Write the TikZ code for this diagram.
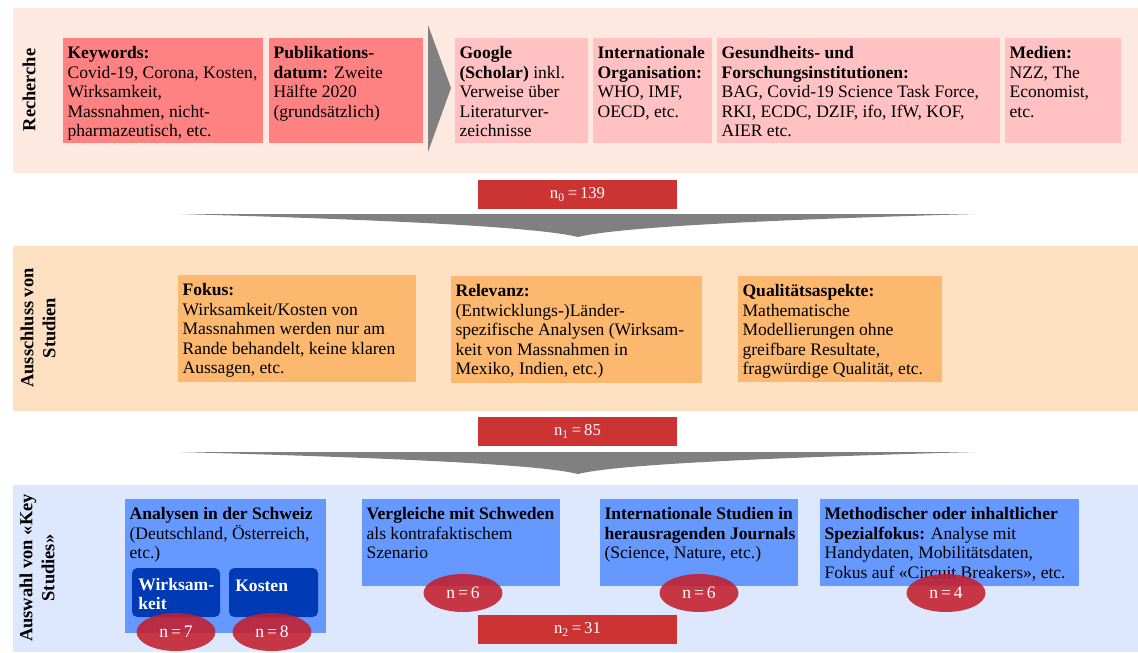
\documentclass[tikz,border=0pt]{standalone}
\usepackage{fontspec}
\setmainfont{Liberation Serif}
\usetikzlibrary{fit, shapes.geometric}
\definecolor{bandone}{HTML}{FDE9DF}
\definecolor{bandtwo}{HTML}{FDDFC2}
\definecolor{bandthree}{HTML}{DDE8FE}
\definecolor{salmon}{HTML}{FF8282}
\definecolor{rosa}{HTML}{FFC1C1}
\definecolor{apricot}{HTML}{FDB870}
\definecolor{sky}{HTML}{6699FF}
\definecolor{navy}{HTML}{003AB4}
\definecolor{nred}{HTML}{CC3333}
\definecolor{ered}{HTML}{C41E2C}
\definecolor{funnel}{HTML}{808080}

\begin{document}
\begin{tikzpicture}[
    x=0.02cm, y=-0.02cm,
    every node/.style={font=\fontsize{10}{11.1}\selectfont},
    area/.style={inner sep=0pt, outer sep=0pt},
    seclabel/.style={rotate=90, align=center, font=\fontsize{10.5}{12.5}\selectfont\bfseries},
    txt/.style={anchor=north west, align=left, inner xsep=2.4pt, inner ysep=4.7pt, execute at begin node=\strut},
    subbox/.style={area, fill=navy, rounded corners=3pt},
    subtxt/.style={txt, text=white, inner xsep=3.4pt, inner ysep=5.4pt, font=\fontsize{10}{11.1}\selectfont\bfseries},
    nbox/.style={area, fill=nred, text=white, minimum width=3.98cm, minimum height=0.58cm,
        font=\fontsize{9.5}{10}\selectfont},
    nell/.style={ellipse, fill=ered, fill opacity=0.88, text opacity=1, text=white,
        minimum width=1.58cm, minimum height=0.76cm, inner sep=0pt}
]
    \useasboundingbox (0,0) rectangle (1138,652);

    % Recherche
    \node[area, fill=bandone, fit={(13,8)(1138,173)}] (recherche) {};
    \node[seclabel] (rechlab) at (29,90) {Recherche};

    \node[area, fill=salmon, fit={(63,38)(263,143)}] (kw) {};
    \node[txt] (kwt) at (kw.north west) {\textbf{Keywords:}\\Covid-19, Corona, Kosten,\\Wirksamkeit,\\Massnahmen, nicht-\\pharmazeutisch, etc.};
    \node[area, fill=salmon, fit={(269,38)(423,143)}] (pub) {};
    \node[txt] (pubt) at (pub.north west) {\textbf{Publikations-}\\\textbf{datum:} Zweite\\Hälfte 2020\\(grundsätzlich)};

    \fill[funnel] (428,25) -- (451,88) -- (428,152) -- cycle;

    \node[area, fill=rosa, fit={(455,38)(588,143)}] (goo) {};
    \node[txt] (goot) at (goo.north west) {\textbf{Google}\\\textbf{(Scholar)} inkl.\\Verweise über\\Literaturver-\\zeichnisse};
    \node[area, fill=rosa, fit={(593,38)(712,143)}] (org) {};
    \node[txt] (orgt) at (org.north west) {\textbf{Internationale}\\\textbf{Organisation:}\\WHO, IMF,\\OECD, etc.};
    \node[area, fill=rosa, fit={(717,38)(1000,143)}] (ges) {};
    \node[txt] (gest) at (ges.north west) {\textbf{Gesundheits- und}\\\textbf{Forschungsinstitutionen:}\\BAG, Covid-19 Science Task Force,\\RKI, ECDC, DZIF, ifo, IfW, KOF,\\AIER etc.};
    \node[area, fill=rosa, fit={(1005,38)(1121,143)}] (med) {};
    \node[txt] (medt) at (med.north west) {\textbf{Medien:}\\NZZ, The\\Economist,\\etc.};

    \node[nbox] (nzero) at (577.5,194.5) {n\textsubscript{0}\,=\,139};
    \fill[funnel] (179,214) -- (976,214) .. controls (720,221) and (610,229) .. (578,237)
        .. controls (546,229) and (436,221) .. (179,214) -- cycle;

    % Ausschluss
    \node[area, fill=bandtwo, fit={(13,246)(1138,411)}] (ausschluss) {};
    \node[seclabel] (auslab) at (38,328) {Ausschluss von\\Studien};

    \node[area, fill=apricot, fit={(178,275)(416,382)}] (fok) {};
    \node[txt] (fokt) at (fok.north west) {\textbf{Fokus:}\\Wirksamkeit/Kosten von\\Massnahmen werden nur am\\Rande behandelt, keine klaren\\Aussagen, etc.};
    \node[area, fill=apricot, fit={(451,276)(702,383)}] (rel) {};
    \node[txt] (relt) at (rel.north west) {\textbf{Relevanz:}\\(Entwicklungs-)Länder-\\spezifische Analysen (Wirksam-\\keit von Massnahmen in\\Mexiko, Indien, etc.)};
    \node[area, fill=apricot, fit={(738,276)(942,382)}] (qua) {};
    \node[txt] (quat) at (qua.north west) {\textbf{Qualitätsaspekte:}\\Mathematische\\Modellierungen ohne\\greifbare Resultate,\\fragwürdige Qualität, etc.};

    \node[nbox] (neins) at (577.5,431.5) {n\textsubscript{1}\,=\,85};
    \fill[funnel] (179,452) -- (976,452) .. controls (720,459) and (610,466) .. (578,474)
        .. controls (546,466) and (436,459) .. (179,452) -- cycle;

    % Auswahl
    \node[area, fill=bandthree, fit={(13,485)(1138,652)}] (auswahl) {};
    \node[seclabel] (auwlab) at (37,568) {Auswahl von «Key\\Studies»};

    \node[area, fill=sky, fit={(125,499)(326,633)}] (ana) {};
    \node[txt] (anat) at (ana.north west) {\textbf{Analysen in der Schweiz}\\(Deutschland, Österreich,\\etc.)};
    \node[subbox, fit={(132,568)(220,617)}] (wir) {};
    \node[subtxt] (wirt) at (wir.north west) {Wirksam-\\keit};
    \node[subbox, fit={(229,568)(318,617)}] (kos) {};
    \node[subtxt] (kost) at (kos.north west) {Kosten};

    \node[area, fill=sky, fit={(362,499)(560,586)}] (ver) {};
    \node[txt] (vert) at (ver.north west) {\textbf{Vergleiche mit Schweden}\\als kontrafaktischem\\Szenario};
    \node[area, fill=sky, fit={(600,499)(798,586)}] (int) {};
    \node[txt] (intt) at (int.north west) {\textbf{Internationale Studien in}\\\textbf{herausragenden Journals}\\(Science, Nature, etc.)};
    \node[area, fill=sky, fit={(820,499)(1079,586)}] (met) {};
    \node[txt] (mett) at (met.north west) {\textbf{Methodischer oder inhaltlicher}\\\textbf{Spezialfokus:} Analyse mit\\Handydaten, Mobilitätsdaten,\\Fokus auf «Circuit Breakers», etc.};

    \node[nell] (nsieben) at (176,632) {n\,=\,7};
    \node[nell] (nacht) at (272,632) {n\,=\,8};
    \node[nell] (nsechsa) at (463,593) {n\,=\,6};
    \node[nell] (nsechsb) at (699,593) {n\,=\,6};
    \node[nell] (nvier) at (946,593) {n\,=\,4};

    \node[nbox] (nzwei) at (577.5,629.5) {n\textsubscript{2}\,=\,31};
\end{tikzpicture}
\end{document}
